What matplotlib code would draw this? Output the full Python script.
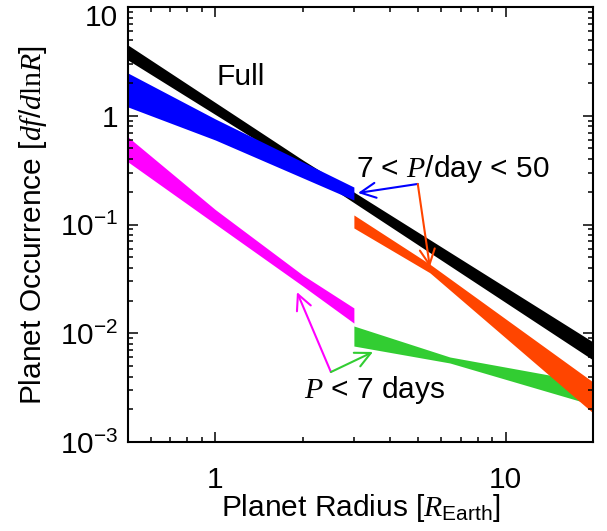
import numpy as np
import matplotlib
matplotlib.use('Agg')
import matplotlib.pyplot as plt
from matplotlib.ticker import FuncFormatter, LogLocator, NullFormatter
from matplotlib.transforms import ScaledTranslation

plt.rcParams['font.family'] = ['Liberation Sans', 'DejaVu Sans']
plt.rcParams['mathtext.fontset'] = 'custom'
plt.rcParams['mathtext.rm'] = 'Liberation Sans'
plt.rcParams['mathtext.it'] = 'Liberation Serif:italic'
plt.rcParams['mathtext.tt'] = 'Liberation Serif'

# bands: radius points, upper and lower edges
r_full = [0.5, 2.0, 20.0]
full_hi = [4.47, 0.392, 0.00831]
full_lo = [3.25, 0.324, 0.00568]

r_mid_small = [0.5, 1.0, 3.0]
mid_small_hi = [2.47, 0.934, 0.221]
mid_small_lo = [1.204, 0.598, 0.168]

r_short_small = [0.5, 1.0, 2.0, 3.0]
short_small_hi = [0.638, 0.137, 0.0343, 0.0171]
short_small_lo = [0.376, 0.101, 0.0272, 0.0124]

r_short_big = [3.0, 6.42, 20.0]
short_big_hi = [0.01166, 0.00605, 0.00349]
short_big_lo = [0.00763, 0.00533, 0.00219]

r_mid_big = [3.0, 5.48, 20.0]
mid_big_hi = [0.1224, 0.0432, 0.00356]
mid_big_lo = [0.0929, 0.0360, 0.00185]

# annotation anchors (radius, occurrence)
lab_full = (1.22, 1.92)
lab_mid = (6.58, 0.273)
lab_short = (3.55, 0.00254)
mid_tail = (4.98, 0.236)
mid_heads = [(3.10, 0.195), (5.48, 0.0407)]
short_tail = (2.50, 0.0044)
short_heads = [(1.91, 0.0239), (3.49, 0.00673)]


def band(ax, r, hi, lo, color):
    # edges are straight in log-log between the read points
    x = np.logspace(np.log10(r[0]), np.log10(r[-1]), 200)
    h = 10 ** np.interp(np.log10(x), np.log10(r), np.log10(hi))
    l = 10 ** np.interp(np.log10(x), np.log10(r), np.log10(lo))
    ax.fill_between(x, l, h, color=color, linewidth=0)


fig = plt.figure(figsize=(6.07, 5.31), dpi=100)
ax = fig.add_axes([0.2109, 0.1676, 0.7661, 0.8192])
ax.set_xscale('log')
ax.set_yscale('log')

band(ax, r_full, full_hi, full_lo, 'black')
band(ax, r_mid_small, mid_small_hi, mid_small_lo, '#0000ff')
band(ax, r_short_small, short_small_hi, short_small_lo, '#ff00ff')
band(ax, r_short_big, short_big_hi, short_big_lo, '#32cd32')
band(ax, r_mid_big, mid_big_hi, mid_big_lo, '#ff4500')

fs = 21.5
ax.text(*lab_full, 'Full', fontsize=fs, ha='center', va='baseline')
ax.text(*lab_mid, r'7 < $P$/day < 50', fontsize=fs, ha='center', va='baseline')
ax.text(*lab_short, r'$P$ < 7 days', fontsize=fs, ha='center', va='baseline')

arrow = '->,head_length=0.55,head_width=0.27'
for head, c in zip(mid_heads, ['#0000ff', '#ff4500']):
    ax.annotate('', xy=head, xytext=mid_tail,
                arrowprops=dict(arrowstyle=arrow, color=c, lw=1.5,
                                mutation_scale=20, shrinkA=0, shrinkB=0))
for head, c in zip(short_heads, ['#ff00ff', '#32cd32']):
    ax.annotate('', xy=head, xytext=short_tail,
                arrowprops=dict(arrowstyle=arrow, color=c, lw=1.5,
                                mutation_scale=20, shrinkA=0, shrinkB=0))

ax.set_xlim(0.5, 20)
ax.set_ylim(1e-3, 10)


def yfmt(v, pos):
    e = int(round(np.log10(v)))
    if e == 1:
        return '10'
    if e == 0:
        return '1'
    return r'$\mathregular{10^{%d}}$' % e


def xfmt(v, pos):
    return '%g' % v


ax.set_yticks([1e-3, 1e-2, 1e-1, 1, 10])
ax.set_xticks([1, 10])
ax.yaxis.set_major_formatter(FuncFormatter(yfmt))
ax.xaxis.set_major_formatter(FuncFormatter(xfmt))
ax.xaxis.set_minor_locator(LogLocator(base=10, subs=np.arange(2, 10)))
ax.yaxis.set_minor_locator(LogLocator(base=10, subs=np.arange(2, 10)))
ax.xaxis.set_minor_formatter(NullFormatter())
ax.yaxis.set_minor_formatter(NullFormatter())

ax.tick_params(which='both', direction='in', top=True, right=True, width=1.1)
ax.tick_params(which='major', length=7, labelsize=fs)
ax.tick_params(which='minor', length=3.5)
ax.tick_params(axis='x', which='major', pad=17)
ax.tick_params(axis='y', which='major', pad=7)
for s in ax.spines.values():
    s.set_linewidth(1.5)

# top label sits a little below the axis top, as in the original
top_lab = ax.get_yticklabels()[-1]
top_lab.set_transform(top_lab.get_transform()
                      + ScaledTranslation(0, -6 / 72, fig.dpi_scale_trans))

ax.set_xlabel(r'Planet Radius [$R_{\mathrm{Earth}}$]', fontsize=fs, labelpad=-1)
ax.set_ylabel(r'Planet Occurrence [$df/d\mathtt{ln}R$]', fontsize=fs, labelpad=8)

fig.savefig('out.png', dpi=100)
